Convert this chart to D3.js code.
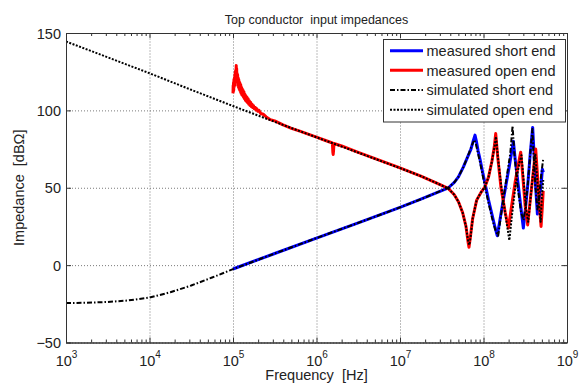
<!DOCTYPE html>
<html>
<head>
<meta charset="utf-8">
<script src="https://cdn.jsdelivr.net/npm/d3@7"></script>
<style>
  html, body { margin: 0; padding: 0; background: #fff; }
  svg { display: block; font-family: "Liberation Sans", Arial, sans-serif; }
  text { white-space: pre; }
</style>
</head>
<body>
<svg id="chart" width="584" height="385"></svg>
<script>
// ---- axis ticks and labels ----
const freqTicks = [1e3, 1e4, 1e5, 1e6, 1e7, 1e8, 1e9];
const impTicks = [-50, 0, 50, 100, 150];
const titleText = "Top conductor  input impedances";
const xLabelText = "Frequency  [Hz]";
const yLabelText = "Impedance  [dB\u03A9]";
const legendLabels = ["measured short end", "measured open end", "simulated short end", "simulated open end"];

// ---- series: [frequency Hz, impedance dBOhm] ----
const measShort = [
  [1e5, -2.5], [3.16e5, 7.5], [1e6, 17.5], [3.16e6, 27.3], [1e7, 37.3], [1.78e7, 42.6],
  [3.16e7, 48.2], [3.80e7, 50], [4.47e7, 53.5], [5.01e7, 57], [5.75e7, 63.5], [6.46e7, 70],
  [7.08e7, 75], [7.50e7, 80], [7.91e7, 84], [8.22e7, 80], [8.61e7, 74], [9.12e7, 68],
  [9.77e7, 60], [1.05e8, 52], [1.15e8, 42], [1.26e8, 33], [1.38e8, 24], [1.46e8, 19],
  [1.55e8, 27], [1.70e8, 40], [1.86e8, 52], [2.04e8, 64], [2.19e8, 74], [2.28e8, 80],
  [2.40e8, 68], [2.63e8, 50], [2.85e8, 34], [3.00e8, 24], [3.16e8, 35], [3.39e8, 52],
  [3.63e8, 72], [3.88e8, 89], [4.03e8, 72], [4.22e8, 50], [4.42e8, 33], [4.62e8, 42],
  [4.90e8, 52], [5.07e8, 62], [5.21e8, 60]
];

const measOpen = [
  [1.00e5, 111], [1.005e5, 116], [1.01e5, 112], [1.015e5, 118], [1.02e5, 113], [1.027e5, 120],
  [1.033e5, 115], [1.04e5, 121], [1.046e5, 116], [1.052e5, 123], [1.058e5, 118], [1.065e5, 125],
  [1.072e5, 119], [1.08e5, 126], [1.087e5, 121], [1.093e5, 129], [1.10e5, 122], [1.106e5, 127],
  [1.113e5, 119], [1.12e5, 124], [1.128e5, 118], [1.136e5, 123], [1.145e5, 116], [1.154e5, 121],
  [1.163e5, 115], [1.172e5, 120], [1.182e5, 114], [1.192e5, 118.5], [1.203e5, 113], [1.214e5, 117.5],
  [1.226e5, 112], [1.238e5, 116.5], [1.25e5, 111], [1.263e5, 115], [1.277e5, 110], [1.291e5, 114],
  [1.305e5, 109.5], [1.32e5, 113], [1.336e5, 108.5], [1.352e5, 112], [1.37e5, 107.5], [1.388e5, 110.5],
  [1.407e5, 106.5], [1.427e5, 109.5], [1.448e5, 105.8], [1.47e5, 108.5], [1.493e5, 105], [1.517e5, 107.5],
  [1.542e5, 104], [1.568e5, 106.2], [1.595e5, 103.2], [1.625e5, 105.2], [1.655e5, 102.5], [1.69e5, 104],
  [1.725e5, 101.8], [1.76e5, 103], [1.80e5, 101], [1.84e5, 102], [1.885e5, 100.2], [1.93e5, 101],
  [1.98e5, 99.4], [2.05e5, 100], [2.15e5, 98], [2.30e5, 97.5], [2.50e5, 95.8], [2.80e5, 94],
  [3.16e5, 93.2], [3.98e5, 90.6], [5.01e5, 88.4], [6.31e5, 86.6], [7.94e5, 84.6], [1e6, 82.7],
  [1.26e6, 80.7], [1.55e6, 78.9], [1.57e6, 73], [1.585e6, 71.5], [1.60e6, 74], [1.62e6, 78.6],
  [2.0e6, 77], [3.16e6, 72.8], [1e7, 62.8], [1.78e7, 57.5], [2.51e7, 54], [3.16e7, 51.5],
  [3.78e7, 49.6], [4.47e7, 45.5], [5.01e7, 41], [5.62e7, 34], [6.17e7, 25], [6.53e7, 15],
  [6.70e7, 11.5], [6.92e7, 17], [7.41e7, 30], [8.28e7, 42], [9.33e7, 47], [1.04e8, 50.5],
  [1.15e8, 57], [1.26e8, 67], [1.35e8, 77], [1.40e8, 85], [1.48e8, 70], [1.62e8, 50],
  [1.82e8, 34], [1.99e8, 24], [2.14e8, 36], [2.40e8, 54], [2.63e8, 66], [2.79e8, 73],
  [2.95e8, 58], [3.16e8, 38], [3.38e8, 26], [3.63e8, 42], [3.98e8, 62], [4.22e8, 75],
  [4.47e8, 55], [4.73e8, 35], [4.89e8, 25], [5.07e8, 38], [5.19e8, 48]
];

const simShort = [
  [1e3, -24.5], [1.78e3, -24.3], [3.16e3, -23.8], [5.62e3, -22.8], [1e4, -21], [1.78e4, -17.5],
  [3.16e4, -13.2], [5.62e4, -8], [1e5, -2.6], [3.16e5, 7.5], [1e6, 17.5], [3.16e6, 27.3],
  [1e7, 37.3], [1.78e7, 42.6], [3.16e7, 48.2], [3.80e7, 50], [4.47e7, 53.5], [5.01e7, 57],
  [5.75e7, 63.5], [6.46e7, 70], [7.08e7, 76], [7.76e7, 81], [8.13e7, 78], [8.61e7, 72],
  [9.12e7, 66], [9.77e7, 58], [1.05e8, 50], [1.15e8, 40], [1.26e8, 31], [1.38e8, 23],
  [1.50e8, 19], [1.58e8, 28], [1.74e8, 44], [1.91e8, 58], [2.09e8, 72], [2.23e8, 90],
  [2.34e8, 72], [2.57e8, 50], [2.82e8, 34], [3.02e8, 29], [3.16e8, 36], [3.39e8, 52],
  [3.63e8, 72], [3.85e8, 88], [3.98e8, 72], [4.17e8, 52], [4.42e8, 36], [4.57e8, 40],
  [4.90e8, 58], [5.20e8, 69]
];

const simOpen = [
  [1e3, 144.5], [3.16e3, 134.3], [1e4, 124], [3.16e4, 113.3], [1e5, 102.8], [3.16e5, 92.6],
  [1e6, 82.6], [3.16e6, 72.7], [1e7, 62.7], [1.78e7, 57.5], [2.51e7, 54], [3.16e7, 51.5],
  [3.78e7, 49.6], [4.47e7, 45.5], [5.01e7, 41], [5.62e7, 34], [6.17e7, 25], [6.53e7, 16],
  [6.76e7, 13], [7.00e7, 18], [7.41e7, 30], [8.28e7, 42], [9.33e7, 47], [1.04e8, 50.5],
  [1.15e8, 57], [1.26e8, 67], [1.35e8, 76], [1.41e8, 83], [1.50e8, 68], [1.66e8, 48],
  [1.86e8, 30], [2.04e8, 16], [2.19e8, 32], [2.45e8, 54], [2.69e8, 66], [2.85e8, 71],
  [3.02e8, 55], [3.24e8, 36], [3.43e8, 28], [3.67e8, 44], [3.98e8, 63], [4.17e8, 72],
  [4.42e8, 54], [4.68e8, 36], [4.84e8, 28], [5.01e8, 45], [5.20e8, 55]
];

// ---- layout ----
const plot = { left: 66, right: 567, top: 33, bottom: 342.5 };
const frameColor = "#333";
const gridColor = "#7a7a7a";
const fontSize = 14.5;

const svg = d3.select("#chart");
const x = d3.scaleLog().domain([1e3, 1e9]).range([plot.left, plot.right]);
const y = d3.scaleLinear().domain([-50, 150]).range([plot.bottom, plot.top]);
const plotW = plot.right - plot.left;
const plotH = plot.bottom - plot.top;

// white plot background
svg.append("rect").attr("x", plot.left).attr("y", plot.top)
  .attr("width", plotW).attr("height", plotH).attr("fill", "#fff");

// dotted grid
const gridX = svg.append("g").attr("transform", `translate(0,${plot.bottom})`)
  .call(d3.axisBottom(x).tickValues(freqTicks).tickSize(-plotH).tickFormat(""));
const gridY = svg.append("g").attr("transform", `translate(${plot.left},0)`)
  .call(d3.axisLeft(y).tickValues(impTicks).tickSize(-plotW).tickFormat(""));
[gridX, gridY].forEach(g => {
  g.select(".domain").remove();
  g.selectAll("line").attr("stroke", gridColor).attr("stroke-width", 1)
    .attr("stroke-dasharray", "1,2");
});

// data lines
svg.append("clipPath").attr("id", "plotClip").append("rect")
  .attr("x", plot.left).attr("y", plot.top).attr("width", plotW).attr("height", plotH);
const line = d3.line().x(d => x(d[0])).y(d => y(d[1]));
const styles = [
  { data: measShort, color: "#0000ff", width: 3, dash: null },
  { data: measOpen, color: "#ff0000", width: 3, dash: null },
  { data: simShort, color: "#000", width: 2, dash: "5,2,1.5,2" },
  { data: simOpen, color: "#000", width: 2, dash: "2,1.5" }
];
const dataG = svg.append("g").attr("clip-path", "url(#plotClip)");
styles.forEach(s => {
  dataG.append("path").datum(s.data).attr("d", line)
    .attr("fill", "none").attr("stroke", s.color).attr("stroke-width", s.width)
    .attr("stroke-linejoin", "round")
    .attr("stroke-dasharray", s.dash);
});

// axes: inside ticks, frame
const minorTicks = x.ticks().filter(v => !freqTicks.includes(v));
function styleAxis(g) {
  g.selectAll(".domain").attr("stroke", frameColor).attr("stroke-width", 1);
  g.selectAll(".tick line").attr("stroke", frameColor).attr("stroke-width", 1);
}
const bottomAxis = svg.append("g").attr("transform", `translate(0,${plot.bottom})`)
  .call(d3.axisBottom(x).tickValues(freqTicks).tickSizeInner(-5).tickSizeOuter(0).tickFormat(""))
  .call(styleAxis);
svg.append("g").attr("transform", `translate(0,${plot.bottom})`)
  .call(d3.axisBottom(x).tickValues(minorTicks).tickSizeInner(-3).tickSizeOuter(0).tickFormat(""))
  .call(styleAxis);
svg.append("g").attr("transform", `translate(0,${plot.top})`)
  .call(d3.axisTop(x).tickValues(freqTicks).tickSizeInner(-5).tickSizeOuter(0).tickFormat(""))
  .call(styleAxis);
svg.append("g").attr("transform", `translate(0,${plot.top})`)
  .call(d3.axisTop(x).tickValues(minorTicks).tickSizeInner(-3).tickSizeOuter(0).tickFormat(""))
  .call(styleAxis);
const leftAxis = svg.append("g").attr("transform", `translate(${plot.left},0)`)
  .call(d3.axisLeft(y).tickValues(impTicks).tickSizeInner(-5).tickSizeOuter(0).tickPadding(5))
  .call(styleAxis);
svg.append("g").attr("transform", `translate(${plot.right},0)`)
  .call(d3.axisRight(y).tickValues(impTicks).tickSizeInner(-5).tickSizeOuter(0).tickFormat(""))
  .call(styleAxis);

// y tick labels
leftAxis.selectAll(".tick text")
  .attr("font-size", fontSize).attr("font-family", null).attr("fill", "#222")
  .attr("dy", "0.36em");

// x tick labels as powers of ten
bottomAxis.selectAll(".tick").each(function (d) {
  const t = d3.select(this).append("text")
    .attr("y", 23).attr("text-anchor", "middle").attr("fill", "#222")
    .attr("font-size", fontSize);
  t.append("tspan").text("10");
  t.append("tspan").attr("dy", -8).attr("font-size", 10).text(String(Math.round(Math.log10(d))));
});

// title and axis labels
svg.append("text").attr("x", (plot.left + plot.right) / 2).attr("y", 24)
  .attr("text-anchor", "middle").attr("font-size", 12.5).attr("fill", "#222").text(titleText);
svg.append("text").attr("x", (plot.left + plot.right) / 2).attr("y", 380)
  .attr("text-anchor", "middle").attr("font-size", fontSize).attr("fill", "#222").text(xLabelText);
svg.append("text").attr("transform", `translate(24,${(plot.top + plot.bottom) / 2}) rotate(-90)`)
  .attr("text-anchor", "middle").attr("font-size", fontSize).attr("fill", "#222").text(yLabelText);

// legend
const legend = svg.append("g");
legend.append("rect").attr("x", 383.5).attr("y", 39.5).attr("width", 182).attr("height", 82.5)
  .attr("fill", "#fff").attr("stroke", frameColor).attr("stroke-width", 1);
const rowY = d3.scalePoint().domain(legendLabels).range([50.7, 109.7]);
legendLabels.forEach((label, i) => {
  const s = styles[i];
  const cy = rowY(label);
  legend.append("line").attr("x1", 390).attr("x2", 423).attr("y1", cy).attr("y2", cy)
    .attr("stroke", s.color).attr("stroke-width", s.width).attr("stroke-dasharray", s.dash);
  legend.append("text").attr("x", 426.5).attr("y", cy + 5.2)
    .attr("font-size", fontSize).attr("fill", "#222").text(label);
});
</script>
</body>
</html>
